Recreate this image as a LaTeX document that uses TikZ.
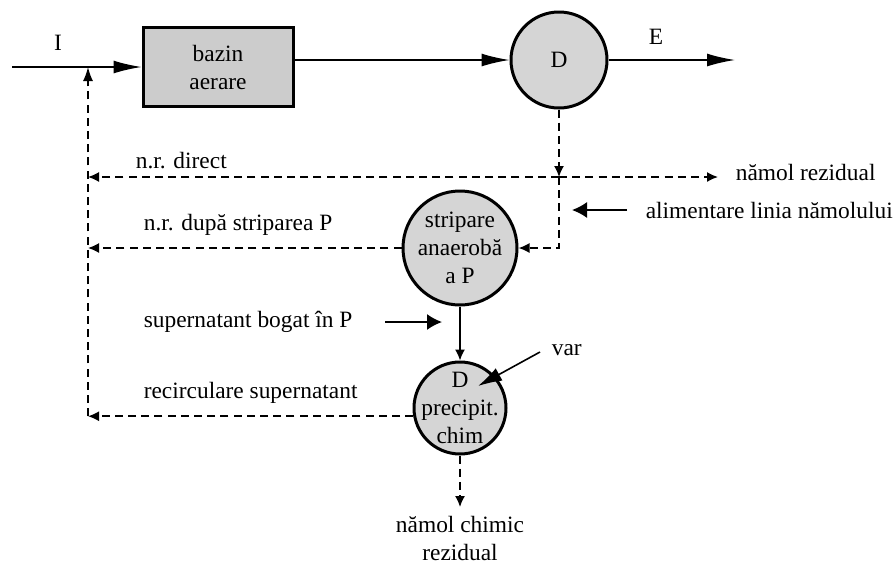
\documentclass[tikz,border=0pt]{standalone}
\usepackage{fontspec}
\setmainfont{Liberation Serif}
\usetikzlibrary{arrows.meta}
\begin{document}
\begin{tikzpicture}[x=0.5pt,y=-0.5pt,
  font=\fontsize{11.7}{14}\selectfont,
  line width=0.8pt,
  tank/.style={draw, line width=1.5pt, fill=gray!40, minimum width=75pt,
    minimum height=39.5pt, align=center, inner sep=0pt},
  vessel/.style={draw, circle, line width=1.5pt, fill=gray!33, inner sep=0pt},
  dsh/.style={dash pattern=on 4pt off 2.6pt},
  bigtip/.style={-{Latex[length=14pt,width=6.5pt]}},
  midtip/.style={-{Latex[length=7.5pt,width=8pt]}},
  vartip/.style={-{Latex[length=12pt,width=7pt]}},
  smalltip/.style={-{Latex[length=5.5pt,width=5pt]}},
  uptip/.style={-{Latex[length=7pt,width=5pt]}},
  lbl/.style={anchor=west, inner sep=0pt},
]
\useasboundingbox (0,0) rectangle (895,563);

% process units
\node[tank] (tank) at (218,67) {bazin\\aerare};
\node[vessel, minimum size=48pt] (D) at (559,60) {D};
\node[vessel, minimum size=57pt,
  label={[align=center]center:stripare\\anaerobă\\a P}] (S) at (460,248) {};
\node[vessel, minimum size=46pt,
  label={[align=center]center:D\\precipit.\\chim}] (P) at (460,408) {};

% free ends and bends
\coordinate (in) at (12,67);
\coordinate (tee) at (88,67);
\coordinate (ret) at (88,0);
\coordinate (eout) at (735,60);
\coordinate (jn) at (559,177);
\coordinate (wout) at (718,177);
\coordinate (turn) at (559,248);
\coordinate (sludge) at (460,507);
\coordinate (supA) at (385,322);
\coordinate (supB) at (442,322);
\coordinate (aliA) at (627,210);
\coordinate (aliB) at (572,210);
\coordinate (varA) at (540,352);
\coordinate (varB) at (478,386);

% main water line
\draw[bigtip] (in) -- (tank.west |- in);
\draw[bigtip] (tank.east |- D) -- (D.west);
\draw[bigtip] (D.east) -- (eout);

% sludge lines
\draw[dsh, smalltip] (D.south) -- (jn);
\draw[dsh, smalltip] (jn) -- (wout);
\draw[dsh, smalltip] (jn) -- (jn -| ret);
\draw[dsh, smalltip] (jn) -- (turn) -- (S.east);
\draw[dsh, smalltip] (S.west) -- (S.west -| ret);
\draw[dsh, smalltip] (P.190) -- (P.190 -| ret);
\draw[dsh, uptip] (P.190 -| ret) -- (tee);
\draw[smalltip] (S.south) -- (P.north);
\draw[dsh, smalltip] (P.south) -- (sludge);

% side feeds
\draw[midtip] (supA) -- (supB);
\draw[midtip] (aliA) -- (aliB);
\draw[vartip] (varA) -- (varB);

% labels
\node (Ilbl) at (58,43) {I};
\node (Elbl) at (656,37) {E};
\node[lbl] (nrd) at (135,161) {n.r. direct};
\node[lbl] (nrs) at (143,225) {n.r. după striparea P};
\node[lbl] (sup) at (143,322) {supernatant bogat în P};
\node[lbl] (rec) at (143,393) {recirculare supernatant};
\node[lbl] (nrz) at (735,172) {nămol rezidual};
\node[lbl] (ali) at (645,210) {alimentare linia nămolului};
\node[lbl] (var) at (551,350) {var};
\node[align=center] (chim) at (460,538) {nămol chimic\\rezidual};
\end{tikzpicture}
\end{document}
